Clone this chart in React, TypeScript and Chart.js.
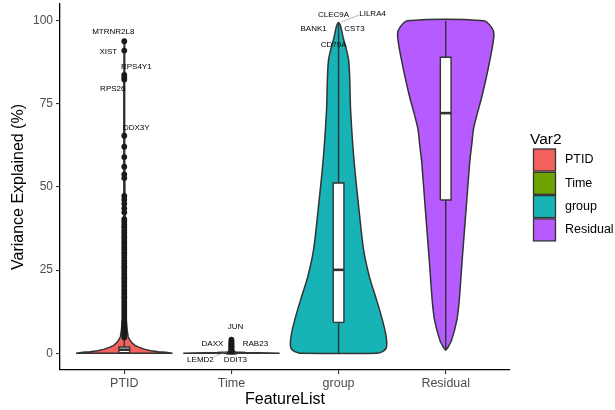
import { useEffect, useRef } from 'react';
import { Chart, registerables } from 'chart.js';

Chart.register(...registerables);

const FONT = '"Liberation Sans", Arial, Helvetica, sans-serif';

// Categories on the x axis and their fill colours
const categories = ['PTID', 'Time', 'group', 'Residual'];
const fillColors = ['#F3625D', '#6FA300', '#17B3B7', '#B55BFF'];
const yTicks = [0, 25, 50, 75, 100];

// Violin density profiles: y level and relative half-width (1 = widest)
const ptidLevels = [0, 0.1, 0.3, 0.5, 0.8, 1.2, 1.8, 2.4, 3.2, 3.9, 5, 7, 10, 20, 40, 60, 80, 93.8];
const ptidWidths = [1, 0.96, 0.86, 0.71, 0.55, 0.43, 0.31, 0.22, 0.16, 0.12, 0.08, 0.06, 0.04, 0.027, 0.018, 0.012, 0.008, 0.004];

const timeLevels = [0, 0.12, 0.25, 0.4, 0.6, 1.0, 2.0, 3.0, 4.1];
const timeWidths = [1, 0.8, 0.3, 0.1, 0.05, 0.035, 0.02, 0.015, 0.01];

const groupLevels = [0, 0.5, 1.5, 3, 6, 10, 16, 23, 31, 43, 58, 73, 88, 95, 98.5, 99.4];
const groupWidths = [0.79, 0.91, 0.985, 1, 0.975, 0.91, 0.79, 0.64, 0.52, 0.425, 0.32, 0.25, 0.21, 0.093, 0.041, 0.006];

const residualLevels = [0.9, 1.9, 3.9, 9.9, 15.9, 27.8, 42.8, 57.8, 62.7, 67.7, 77.8, 87.7, 95.8, 98.2, 100];
const residualWidths = [0, 0.05, 0.12, 0.23, 0.28, 0.34, 0.42, 0.5, 0.54, 0.58, 0.76, 0.91, 1, 0.94, 0.79];

// Box plot statistics per category
const boxLower = [0, 0, 0, 0.9];
const boxQ1 = [0.2, 0, 9.3, 46.1];
const boxMedian = [1.1, 0, 25.1, 72.2];
const boxQ3 = [1.9, 0, 51.2, 89.0];
const boxUpper = [4.3, 0, 99.4, 100];

// Outlying genes
const ptidOutliers = [
  93.8, 91.0, 83.7, 83.0, 82.3, 65.4, 62.1, 59.0, 56.1, 53.8, 52.7, 47.3, 46.2, 45.0, 43.6, 42.4,
  40.3, 39.5, 38.6, 37.9, 37.0, 36.2, 35.3, 34.6, 33.7, 32.9, 32.0, 31.3, 30.4, 29.6, 28.7, 27.9,
  27.1, 26.2, 25.5, 24.6, 23.8, 22.9, 22.2, 21.4, 20.5, 19.7, 18.9, 18.1, 17.2, 16.5, 15.6, 14.8,
  14.0, 13.2, 12.4, 11.6, 10.8, 10.0, 9.3, 8.5, 7.7, 7.0, 6.2, 5.5, 4.8,
];
const timeOutliers = [4.1, 3.6, 3.2, 2.9, 2.6, 2.3, 2.0, 1.7, 1.4, 1.1, 0.8, 0.5];

// Labelled genes
const ptidGenes = ['MTRNR2L8', 'XIST', 'RPS4Y1', 'RPS26', 'DDX3Y'];
const ptidGeneValues = [93.8, 91.0, 83.7, 82.3, 65.4];
const timeGenes = ['JUN', 'DAXX', 'RAB23', 'DDIT3', 'LEMD2'];
const timeGeneValues = [4.1, 2.9, 2.6, 0.8, 1.1];
const groupGenes = ['CLEC9A', 'LILRA4', 'BANK1', 'CST3', 'CD79A'];
const groupGeneValues = [99.4, 99.3, 99.1, 98.9, 98.6];

// Repelled label placement (pixel offset from the gene's point, leader line flag)
const ptidLabelOffsets = [[-11, -9.5, 0], [-16, 1, 0], [12, -8, 0], [-11.5, 9, 0], [12, -8, 0]];
const timeLabelOffsets = [[4, -13, 0], [-19, 0, 0], [24, -1, 0], [4, 9, 0], [-31, 10, 1]];
const groupLabelOffsets = [[-5, -8, 0], [34, -9, 1], [-25, 5, 0], [16, 5, 0], [-5, 20, 0]];

const HALF = 0.45;
const BOX_HALF = 0.05;
const OUTLINE = '#333333';

function violinOutline(center: number, levels: number[], widths: number[]) {
  const left = levels.map((v, i) => ({ x: center - widths[i] * HALF, y: v }));
  const right = levels.map((v, i) => ({ x: center + widths[i] * HALF, y: v })).reverse();
  return [...left, ...right, left[0]];
}

const labelPlugin = {
  id: 'geneLabels',
  afterDatasetsDraw(chart: any) {
    const { ctx, scales } = chart;
    const sets = [
      { cat: 1, names: ptidGenes, values: ptidGeneValues, offsets: ptidLabelOffsets },
      { cat: 2, names: timeGenes, values: timeGeneValues, offsets: timeLabelOffsets },
      { cat: 3, names: groupGenes, values: groupGeneValues, offsets: groupLabelOffsets },
    ];
    ctx.save();
    ctx.font = `8px ${FONT}`;
    ctx.textAlign = 'center';
    ctx.textBaseline = 'middle';
    for (const s of sets) {
      const px = scales.x.getPixelForValue(s.cat);
      s.names.forEach((name, i) => {
        const py = scales.y.getPixelForValue(s.values[i]);
        const [dx, dy, leader] = s.offsets[i];
        const lx = px + dx;
        const ly = py + dy;
        if (leader) {
          const w = ctx.measureText(name).width;
          const ex = lx + (dx < 0 ? w / 2 : -w / 2);
          const ey = ly + (dy < 0 ? 1 : -3);
          const vx = px - ex;
          const vy = py - ey;
          const len = Math.hypot(vx, vy);
          ctx.strokeStyle = '#8c8c8c';
          ctx.lineWidth = 0.6;
          ctx.beginPath();
          ctx.moveTo(ex, ey);
          ctx.lineTo(ex + (vx * (len - 3)) / len, ey + (vy * (len - 3)) / len);
          ctx.stroke();
        }
        ctx.fillStyle = '#000';
        ctx.fillText(name, lx, ly);
      });
    }
    ctx.restore();
  },
};

const legendPlugin = {
  id: 'var2Legend',
  afterDraw(chart: any) {
    const { ctx } = chart;
    ctx.save();
    ctx.fillStyle = '#000';
    ctx.textBaseline = 'middle';
    ctx.textAlign = 'left';
    ctx.font = `15.5px ${FONT}`;
    ctx.fillText('Var2', 530, 140);
    ctx.font = `12.5px ${FONT}`;
    categories.forEach((c, i) => {
      const y = 149 + i * 23.3;
      ctx.fillStyle = fillColors[i];
      ctx.fillRect(533.5, y, 22, 22);
      ctx.strokeStyle = OUTLINE;
      ctx.lineWidth = 1.3;
      ctx.strokeRect(533.5, y, 22, 22);
      ctx.fillStyle = '#000';
      ctx.fillText(c, 565, y + 11);
    });
    ctx.restore();
  },
};

export default function App() {
  const canvasRef = useRef<HTMLCanvasElement | null>(null);

  useEffect(() => {
    const canvas = canvasRef.current;
    if (!canvas) return;

    const profiles = [
      [ptidLevels, ptidWidths],
      [timeLevels, timeWidths],
      [groupLevels, groupWidths],
      [residualLevels, residualWidths],
    ];

    const datasets: any[] = [];
    profiles.forEach(([levels, widths], i) => {
      const c = i + 1;
      datasets.push({
        type: 'line',
        data: violinOutline(c, levels, widths),
        borderColor: OUTLINE,
        borderWidth: 1.5,
        backgroundColor: fillColors[i],
        fill: 'shape',
        pointRadius: 0,
        tension: i >= 2 ? 0.3 : 0,
        order: 5,
      });
      datasets.push({
        type: 'line',
        data: [{ x: c, y: boxLower[i] }, { x: c, y: boxUpper[i] }],
        borderColor: OUTLINE,
        borderWidth: 1.4,
        pointRadius: 0,
        fill: false,
        order: 4,
      });
      datasets.push({
        type: 'line',
        data: [
          { x: c - BOX_HALF, y: boxQ1[i] },
          { x: c + BOX_HALF, y: boxQ1[i] },
          { x: c + BOX_HALF, y: boxQ3[i] },
          { x: c - BOX_HALF, y: boxQ3[i] },
          { x: c - BOX_HALF, y: boxQ1[i] },
        ],
        borderColor: OUTLINE,
        borderWidth: 1.4,
        backgroundColor: '#ffffff',
        fill: 'shape',
        pointRadius: 0,
        order: 3,
      });
      datasets.push({
        type: 'line',
        data: [{ x: c - BOX_HALF, y: boxMedian[i] }, { x: c + BOX_HALF, y: boxMedian[i] }],
        borderColor: OUTLINE,
        borderWidth: 2.6,
        pointRadius: 0,
        fill: false,
        order: 2,
      });
    });
    [ptidOutliers, timeOutliers].forEach((vals, i) => {
      datasets.push({
        type: 'line',
        data: vals.map((v) => ({ x: i + 1, y: v })),
        showLine: false,
        pointRadius: 2.9,
        pointBackgroundColor: '#1a1a1a',
        pointBorderWidth: 0,
        fill: false,
        order: 1,
      });
    });

    const chart = new Chart(canvas, {
      type: 'line',
      data: { datasets },
      options: {
        responsive: false,
        animation: false,
        events: [],
        layout: { padding: { top: 2, right: 105, left: 0, bottom: 0 } },
        plugins: { legend: { display: false }, tooltip: { enabled: false } },
        scales: {
          x: {
            type: 'linear',
            min: 0.4,
            max: 4.6,
            afterBuildTicks: (s: any) => {
              s.ticks = categories.map((_, i) => ({ value: i + 1 }));
            },
            afterFit: (s: any) => {
              s.height = 40;
              s.paddingLeft = 0;
              s.paddingRight = 0;
            },
            ticks: {
              callback: (v: any) => categories[Math.round(Number(v)) - 1] ?? '',
              color: '#4D4D4D',
              font: { family: FONT, size: 12.5 },
              padding: 2.5,
              autoSkip: false,
              maxRotation: 0,
            },
            grid: { display: true, drawOnChartArea: false, drawTicks: true, tickLength: 4, color: OUTLINE, lineWidth: 1.1 },
            border: { display: true, color: '#000', width: 1.3 },
            title: {
              display: true,
              text: 'FeatureList',
              color: '#000',
              font: { family: FONT, size: 16 },
              padding: { top: 0, bottom: 0.5 },
            },
          },
          y: {
            type: 'linear',
            min: -5,
            max: 105,
            afterBuildTicks: (s: any) => {
              s.ticks = yTicks.map((v) => ({ value: v }));
            },
            afterFit: (s: any) => {
              s.width = 60;
              s.paddingTop = 0;
              s.paddingBottom = 0;
            },
            ticks: { color: '#4D4D4D', font: { family: FONT, size: 12 }, padding: 3 },
            grid: { display: true, drawOnChartArea: false, drawTicks: true, tickLength: 4, color: OUTLINE, lineWidth: 1.1 },
            border: { display: true, color: '#000', width: 1.3 },
            title: {
              display: true,
              text: 'Variance Explained (%)',
              color: '#000',
              font: { family: FONT, size: 16 },
              padding: { top: 9, bottom: 0 },
            },
          },
        },
      },
      plugins: [labelPlugin, legendPlugin],
    } as any);

    return () => chart.destroy();
  }, []);

  return (
    <div style={{ position: 'fixed', left: 0, top: 0, width: 615, height: 410, background: '#fff' }}>
      <canvas ref={canvasRef} width={615} height={410} style={{ display: 'block' }} />
    </div>
  );
}
